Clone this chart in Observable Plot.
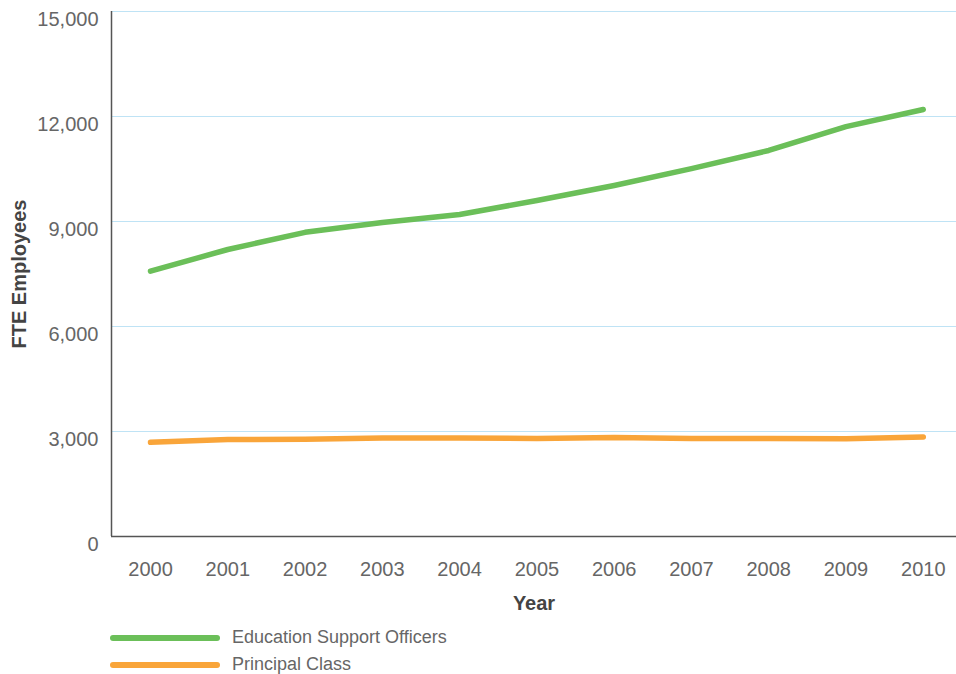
<!DOCTYPE html>
<html>
<head>
<meta charset="utf-8">
<script src="https://cdn.jsdelivr.net/npm/d3@7"></script>
<script src="https://cdn.jsdelivr.net/npm/@observablehq/plot@0.6"></script>
<style>
  html, body { margin: 0; padding: 0; background: #fff; }
  body { width: 956px; font-family: "Liberation Sans", Helvetica, Arial, sans-serif; }
  #legend { position: relative; height: 54px; }
  .row { position: absolute; left: 110px; display: flex; align-items: center; }
  .sw { width: 110px; height: 6px; border-radius: 3px; margin-right: 12px; }
  .lab { font-size: 18px; color: #666; }
</style>
</head>
<body>
<div id="chart"></div>
<div id="legend"></div>
<script>
const years = [2000, 2001, 2002, 2003, 2004, 2005, 2006, 2007, 2008, 2009, 2010];
const educationSupport = [7580, 8200, 8690, 8970, 9200, 9600, 10030, 10510, 11030, 11710, 12200];
const principalClass = [2690, 2770, 2780, 2815, 2815, 2800, 2830, 2800, 2800, 2790, 2845];
const seriesNames = ["Education Support Officers", "Principal Class"];
const seriesColors = ["#6bbf59", "#f9a53a"];
const yTicks = [0, 3000, 6000, 9000, 12000, 15000];

const rows = [];
years.forEach((y, i) => {
  rows.push({year: y, value: educationSupport[i], series: seriesNames[0]});
  rows.push({year: y, value: principalClass[i], series: seriesNames[1]});
});

const chart = Plot.plot({
  width: 956,
  height: 620,
  marginLeft: 111,
  marginRight: 0,
  marginTop: 11,
  marginBottom: 84,
  style: {fontFamily: "'Liberation Sans', Helvetica, Arial, sans-serif", background: "#fff"},
  x: {domain: [1999.495, 2010.43]},
  y: {domain: [0, 15000]},
  color: {domain: seriesNames, range: seriesColors},
  marks: [
    Plot.gridY(yTicks.filter(d => d > 0), {stroke: "#bfe3f5", strokeOpacity: 1, strokeWidth: 1}),
    Plot.axisY({ticks: yTicks, tickSize: 0, tickPadding: 13, dy: 8, fontSize: 20, color: "#666", label: null,
                tickFormat: d => d3.format(",")(d)}),
    Plot.axisY({ticks: [], label: "FTE Employees", labelAnchor: "center", labelArrow: "none", labelOffset: 100,
                fontSize: 20, fontWeight: "bold", color: "#444"}),
    Plot.axisX({ticks: years, tickSize: 0, tickPadding: 25, fontSize: 20, color: "#666", tickFormat: d => String(d), label: null}),
    Plot.axisX({ticks: [], label: "Year", labelAnchor: "center", labelArrow: "none", labelOffset: 73,
                fontSize: 20, fontWeight: "bold", color: "#444"}),
    Plot.ruleX([1999.495], {stroke: "#555", strokeWidth: 1.5}),
    Plot.ruleY([0], {stroke: "#555", strokeWidth: 1.5}),
    Plot.line(rows, {x: "year", y: "value", z: "series", stroke: "series", strokeWidth: 5.5, strokeLinecap: "round", strokeLinejoin: "round"})
  ]
});
document.getElementById("chart").appendChild(chart);

const legend = document.getElementById("legend");
seriesNames.forEach((name, i) => {
  const row = document.createElement("div");
  row.className = "row";
  row.style.top = (i === 0 ? 7 : 34) + "px";
  const sw = document.createElement("div");
  sw.className = "sw";
  sw.style.background = seriesColors[i];
  const lab = document.createElement("span");
  lab.className = "lab";
  lab.textContent = name;
  row.appendChild(sw);
  row.appendChild(lab);
  legend.appendChild(row);
});
</script>
</body>
</html>
